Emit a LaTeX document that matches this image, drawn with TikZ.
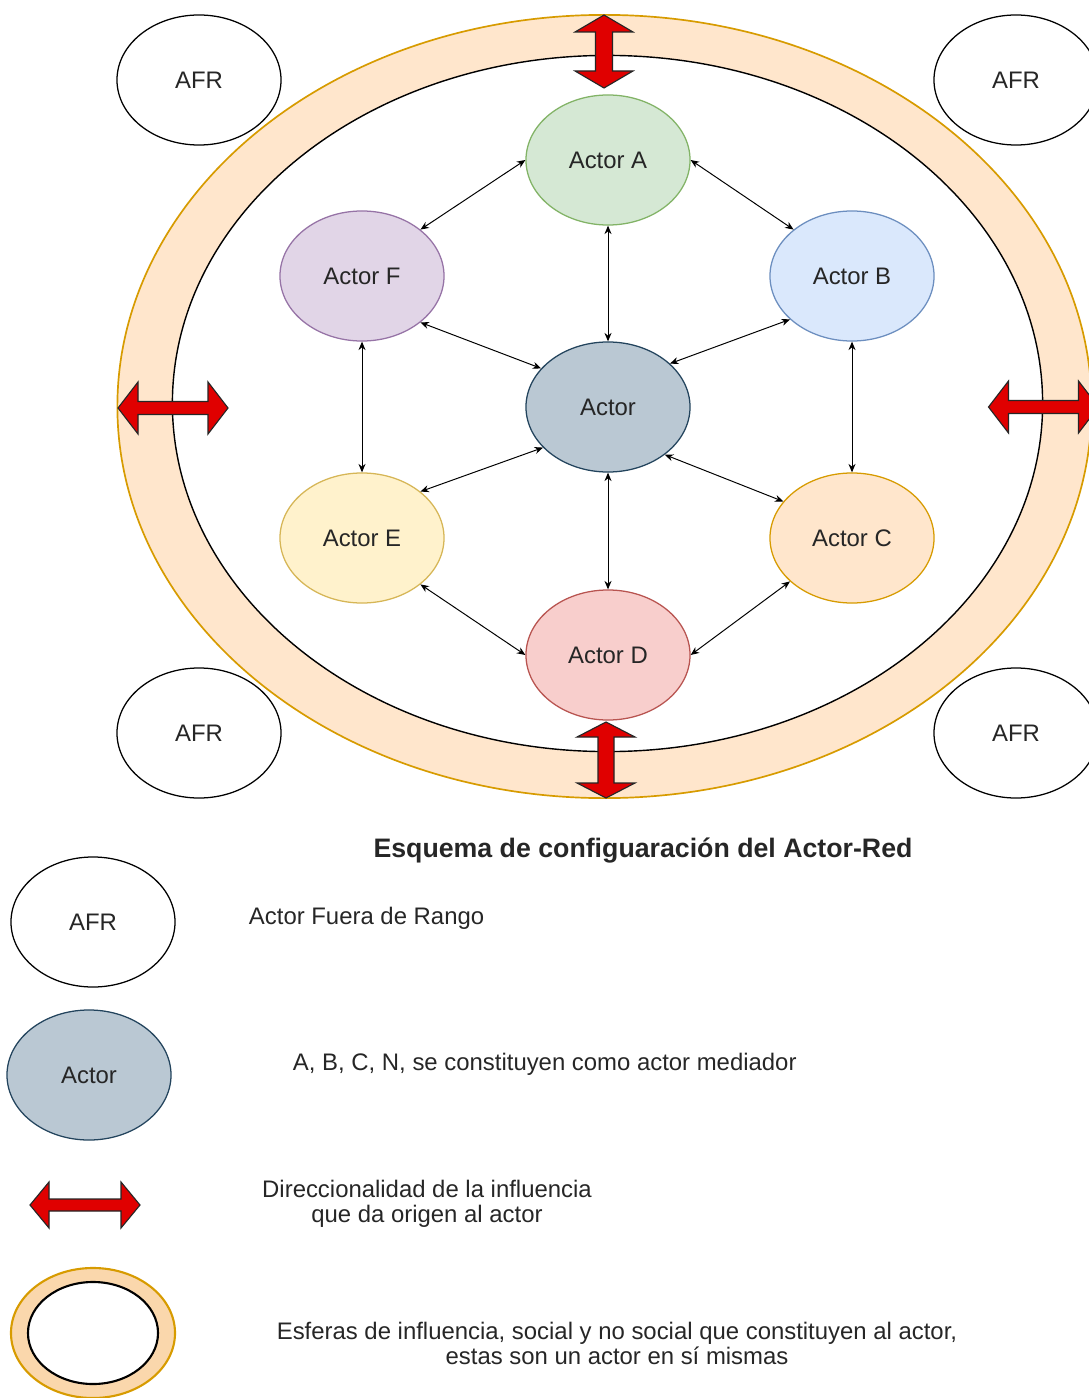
\documentclass[tikz,border=0pt]{standalone}
\usepackage{fontspec}
\setmainfont{Liberation Sans}
\usepackage{tikz}
\usetikzlibrary{arrows.meta,shapes,positioning}

\definecolor{ringfill}{HTML}{FFE6CC}
\definecolor{ringedge}{HTML}{D79B00}
\definecolor{legfill}{HTML}{FAD7AC}
\definecolor{afill}{HTML}{D5E8D4}\definecolor{aedge}{HTML}{82B366}
\definecolor{bfill}{HTML}{DAE8FC}\definecolor{bedge}{HTML}{6C8EBF}
\definecolor{cfill}{HTML}{FFE6CC}\definecolor{cedge}{HTML}{D79B00}
\definecolor{dfill}{HTML}{F8CECC}\definecolor{dedge}{HTML}{B85450}
\definecolor{efill}{HTML}{FFF2CC}\definecolor{eedge}{HTML}{D6B656}
\definecolor{ffill}{HTML}{E1D5E7}\definecolor{fedge}{HTML}{9673A6}
\definecolor{mfill}{HTML}{BAC8D3}\definecolor{medge}{HTML}{23445D}
\definecolor{inflred}{HTML}{E00000}
\definecolor{txt}{HTML}{262626}

\tikzset{
  actor/.style={ellipse, draw, line width=0.9pt, minimum width=4.1cm, minimum height=3.25cm, inner sep=0pt},
  afr/.style={actor, fill=white, draw=black},
  conn/.style={{Stealth[length=6pt,width=5pt]}-{Stealth[length=6pt,width=5pt]}, line width=0.7pt},
  inflarrow/.style={fill=inflred, draw=black!85, line width=0.8pt, line join=miter},
  pics/influence/.style n args={4}{code={
    \draw[inflarrow] (-#1,0) -- (-#1+#2,-#3) -- (-#1+#2,-#4) -- (#1-#2,-#4) -- (#1-#2,-#3)
      -- (#1,0) -- (#1-#2,#3) -- (#1-#2,#4) -- (-#1+#2,#4) -- (-#1+#2,#3) -- cycle;
  }}
}

\begin{document}
\begin{tikzpicture}[x=0.025cm, y=-0.025cm, font=\fontsize{17}{18}\selectfont, text=txt]
  \useasboundingbox (0,0) rectangle (1089,1398);

  % esferas de influencia
  \draw[draw=ringedge, line width=1.2pt, fill=ringfill] (604.5,406.5) ellipse [x radius=12.175cm, y radius=9.7875cm];
  \draw[draw=black, line width=1pt, fill=white] (607.5,403.5) ellipse [x radius=10.875cm, y radius=8.7cm];

  % actores fuera de rango
  \node[afr] (afr1) at (199,80) {AFR};
  \node[afr] (afr2) at (1016,80) {AFR};
  \node[afr] (afr3) at (199,733) {AFR};
  \node[afr] (afr4) at (1016,733) {AFR};

  % actor-red
  \node[actor, fill=afill, draw=aedge] (a) at (608,160) {Actor A};
  \node[actor, fill=bfill, draw=bedge] (b) at (852,276) {Actor B};
  \node[actor, fill=cfill, draw=cedge] (c) at (852,538) {Actor C};
  \node[actor, fill=dfill, draw=dedge] (d) at (608,655) {Actor D};
  \node[actor, fill=efill, draw=eedge] (e) at (362,538) {Actor E};
  \node[actor, fill=ffill, draw=fedge] (f) at (362,276) {Actor F};
  \node[actor, fill=mfill, draw=medge] (m) at (608,407) {Actor};

  \path[conn]
    (a.west) edge (f.north east)
    (a.east) edge (b.north west)
    (a.south) edge (m.north)
    (f.south east) edge (m.150)
    (b.215) edge (m.35)
    (f.south) edge (e.north)
    (b.south) edge (c.north)
    (m.212) edge (e.north east)
    (m.320) edge (c.152)
    (m.south) edge (d.north)
    (e.south east) edge (d.west)
    (c.215) edge (d.east);

  % direccionalidad
  \pic[rotate=90] (infltop) at (604,51.5) {influence={36.5}{17}{29}{8.5}};
  \pic[rotate=90] (inflbot) at (606,760) {influence={38}{15}{29}{8}};
  \pic (inflleft) at (173,408) {influence={55}{20}{26}{6.5}};
  \pic (inflright) at (1043.5,407) {influence={55}{20}{26}{6.5}};

  % leyenda
  \node[font=\fontsize{19}{20}\selectfont\bfseries] (title) at (643,851) {Esquema de configuaración del Actor-Red};

  \node[afr] (legafr) at (93,922) {AFR};
  \node[anchor=west] (legafrtxt) at (244,918) {Actor Fuera de Rango};

  \node[actor, fill=mfill, draw=medge] (legactor) at (89,1075) {Actor};
  \node[anchor=west] (legactortxt) at (288,1064) {A, B, C, N, se constituyen como actor mediador};

  \pic (leginfl) at (85,1205) {influence={55}{19}{23}{6}};
  \node[align=center, font=\fontsize{17}{17.8}\selectfont] (leginfltxt) at (427,1204) {Direccionalidad de la influencia\\que da origen al actor};

  \draw[draw=ringedge, line width=1.5pt, fill=legfill] (93,1333) ellipse [x radius=2.05cm, y radius=1.625cm];
  \draw[draw=black, line width=1.5pt, fill=white] (93,1333) ellipse [x radius=1.625cm, y radius=1.275cm];
  \node[align=center, font=\fontsize{17}{17.8}\selectfont] (legringtxt) at (617,1343) {Esferas de influencia, social y no social que constituyen al actor,\\estas son un actor en sí mismas};
\end{tikzpicture}
\end{document}
